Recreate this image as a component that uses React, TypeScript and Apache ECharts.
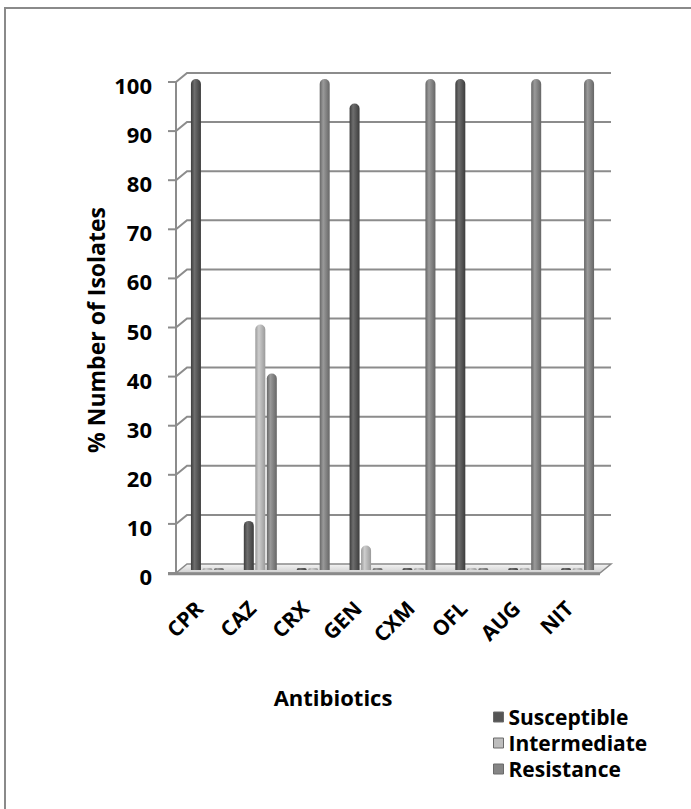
import React, { useEffect, useRef } from "react";
import * as echarts from "echarts";

const categories = ["CPR", "CAZ", "CRX", "GEN", "CXM", "OFL", "AUG", "NIT"];
const susceptible = [100, 10, 0, 95, 0, 100, 0, 0];
const intermediate = [0, 50, 0, 5, 0, 0, 0, 0];
const resistance = [0, 40, 100, 0, 100, 0, 100, 100];
const yTicks = [0, 10, 20, 30, 40, 50, 60, 70, 80, 90, 100];
const seriesNames = ["Susceptible", "Intermediate", "Resistance"];

const GL = 181;
const GW = 423;
const GT = 79;
const GH = 491;
const FONT = "'Open Sans', Lato, sans-serif";

function cyl(edge: string, mid: string) {
  return new echarts.graphic.LinearGradient(0, 0, 1, 0, [
    { offset: 0, color: edge },
    { offset: 0.35, color: mid },
    { offset: 1, color: edge },
  ]);
}

export default function App() {
  const ref = useRef<HTMLDivElement>(null);
  useEffect(() => {
    if (!ref.current) return;
    const chart = echarts.init(ref.current, null, { renderer: "svg" });
    const yPix = (v: number) => GT + GH * (1 - v / 100);
    const lineColor = "#8c8c8c";
    const graphics: any[] = [];
    graphics.push({
      type: "rect",
      z: 0,
      shape: { x: 5, y: 8, width: 720, height: 840 },
      style: { fill: "none", stroke: "#8a8a8a", lineWidth: 2 },
    });
    const frontX = 176;
    const backX = 187;
    const rightX = 611;
    yTicks.forEach((v) => {
      const f = yPix(v) + 3;
      const b = yPix(v) - 6;
      graphics.push({
        type: "line",
        z: 0,
        shape: { x1: 168, y1: f, x2: frontX, y2: f },
        style: { stroke: lineColor, lineWidth: 2 },
      });
      if (v !== 0) {
        graphics.push({
          type: "polyline",
          z: 0,
          shape: { points: [[frontX, f], [backX, b], [rightX, b]] },
          style: { stroke: lineColor, lineWidth: 2, fill: "none" },
        });
      }
    });
    graphics.push({
      type: "line",
      z: 0,
      shape: { x1: frontX, y1: yPix(100) + 3, x2: frontX, y2: yPix(0) + 3 },
      style: { stroke: lineColor, lineWidth: 2 },
    });
    const f0 = yPix(0) + 3;
    const b0 = yPix(0) - 6;
    graphics.push({
      type: "polygon",
      z: 1,
      shape: { points: [[frontX, f0], [600, f0], [rightX, b0], [backX, b0]] },
      style: {
        fill: new echarts.graphic.LinearGradient(0, 0, 0, 1, [
          { offset: 0, color: "#f4f4f4" },
          { offset: 1, color: "#cfcfcf" },
        ]),
        stroke: "#8a8a8a",
        lineWidth: 1.5,
      },
    });
    graphics.push({
      type: "line",
      z: 1,
      shape: { x1: 168, y1: f0 + 1, x2: 600, y2: f0 + 1 },
      style: { stroke: "#8a8a8a", lineWidth: 2.5 },
    });
    graphics.push({
      type: "text",
      z: 5,
      x: 96,
      y: 330,
      rotation: Math.PI / 2,
      style: {
        text: "% Number of Isolates",
        font: `bold 23px ${FONT}`,
        fill: "#000",
        align: "center",
        verticalAlign: "middle",
      },
    });
    graphics.push({
      type: "text",
      z: 5,
      x: 333,
      y: 697,
      style: {
        text: "Antibiotics",
        font: `bold 22px ${FONT}`,
        fill: "#000",
        align: "center",
        verticalAlign: "middle",
      },
    });

    const colors = [
      cyl("#3c3c3c", "#6e6e6e"),
      cyl("#9a9a9a", "#cdcdcd"),
      cyl("#666666", "#9a9a9a"),
    ];
    const legendColors = ["#555555", "#bdbdbd", "#858585"];
    const datasets = [susceptible, intermediate, resistance];

    chart.setOption({
      animation: false,
      backgroundColor: "#ffffff",
      grid: { left: GL, top: GT, width: GW, height: GH, containLabel: false },
      legend: {
        orient: "vertical",
        left: 493,
        top: 704,
        padding: 0,
        itemWidth: 10,
        itemHeight: 10,
        itemGap: 0,
        icon: "rect",
        data: seriesNames.map((n, i) => ({
          name: n,
          itemStyle: { color: legendColors[i], borderColor: "#6a6a6a", borderWidth: 1 },
        })),
        textStyle: {
          fontFamily: FONT,
          fontWeight: "bold",
          fontSize: 21,
          lineHeight: 26,
          color: "#000",
        },
      },
      xAxis: {
        type: "category",
        data: categories,
        axisLine: { show: false },
        axisTick: { show: false },
        axisLabel: {
          interval: 0,
          rotate: 45,
          margin: 26,
          padding: [0, 12, 0, 0],
          fontFamily: FONT,
          fontWeight: "bold",
          fontSize: 21,
          color: "#000",
        },
      },
      yAxis: {
        type: "value",
        min: 0,
        max: 100,
        interval: 10,
        axisLine: { show: false },
        axisTick: { show: false },
        splitLine: { show: false },
        axisLabel: {
          margin: 29,
          fontFamily: FONT,
          fontWeight: "bold",
          fontSize: 22,
          color: "#000",
          verticalAlign: "top",
          lineHeight: 12,
        },
      },
      graphic: graphics,
      series: seriesNames.map((name, i) => ({
        name,
        type: "bar",
        data: datasets[i],
        barWidth: 10,
        barGap: "15%",
        barMinHeight: 2,
        z: 3,
        itemStyle: {
          color: colors[i],
          borderRadius: [5, 5, 0, 0],
        },
      })),
    });
    return () => chart.dispose();
  }, []);
  return (
    <div
      ref={ref}
      style={{ position: "fixed", left: 0, top: 0, width: 691, height: 809 }}
    />
  );
}
